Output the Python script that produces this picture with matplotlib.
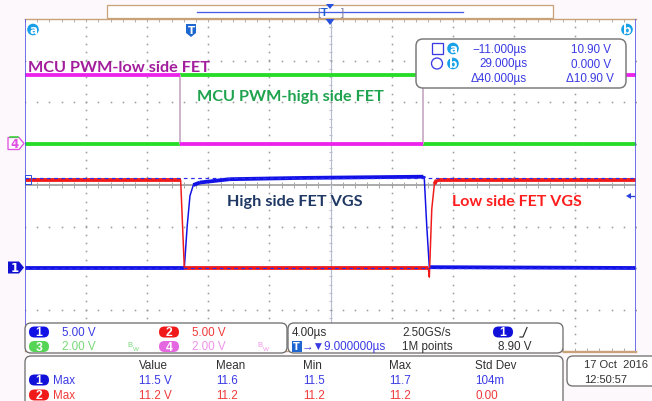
import numpy as np
import matplotlib
matplotlib.use('Agg')
import matplotlib.pyplot as plt
from matplotlib.patches import FancyBboxPatch, Polygon, Circle, Rectangle
from matplotlib.collections import LineCollection

# ---------------- data ----------------
t_min, t_max = -11.0, 29.0          # µs, cursor a / cursor b positions
time_per_div = 4.0
trig_delay = 9.0
trig_level = 8.90                   # V on ch1
cursor_a_v, cursor_b_v = 10.90, 0.0 # V on ch1

ch_scale = {1: 5.0, 2: 5.0, 3: 2.0, 4: 2.0}      # V/div
ch_ground = {1: -2.0, 2: -2.0, 3: 1.0, 4: 1.0}   # ground position (div)

# Channel 1: high side FET VGS
ch1_t = [-11.0, -0.57, -0.38, -0.20, 0.02, 0.46, 2.4, 7.0, 15.08, 15.14, 15.30, 15.47, 29.0]
ch1_v = [0.0, 0.0, 5.1, 8.7, 10.0, 10.3, 10.7, 10.85, 11.0, 10.8, 5.1, 0.1, 0.0]
# Channel 2: low side FET VGS
ch2_t = [-11.0, -0.81, -0.57, 15.40, 15.47, 15.63, 15.80, 15.95, 29.0]
ch2_v = [10.6, 10.6, 0.0, 0.0, -1.1, 7.1, 10.1, 10.6, 10.6]
# Channel 3: MCU PWM - high side FET
ch3_t = [-11.0, -0.85, -0.85, 15.05, 15.05, 29.0]
ch3_v = [0.0, 0.0, 3.3, 3.3, 0.0, 0.0]
# Channel 4: MCU PWM - low side FET
ch4_t = [-11.0, -0.85, -0.85, 15.05, 15.05, 29.0]
ch4_v = [3.3, 3.3, 0.0, 0.0, 3.3, 3.3]

channel_labels = ["1", "2", "3", "4"]
channel_scales_txt = ["5.00 V", "5.00 V", "2.00 V", "2.00 V"]
timebase_txt = "4.00µs"
sample_rate_txt = "2.50GS/s"
delay_txt = "9.000000µs"
points_txt = "1M points"
trig_txt = "8.90 V"

cursor_times = ["\u221211.000µs", "29.000µs", "\u039440.000µs"]
cursor_volts = ["10.90 V", "0.000 V", "\u039410.90 V"]

meas_header = ["Value", "Mean", "Min", "Max", "Std Dev"]
meas_ch1 = ["11.5 V", "11.6", "11.5", "11.7", "104m"]
meas_ch2 = ["11.2 V", "11.2", "11.2", "11.2", "0.00"]
date_txt = "17 Oct  2016"
time_txt = "12:50:57"

ann_low_pwm = "MCU PWM-low side FET"
ann_high_pwm = "MCU PWM-high side FET"
ann_high_vgs = "High side FET VGS"
ann_low_vgs = "Low side FET VGS"

# ---------------- style ----------------
W, H = 652, 402
PX = 0.72  # points per pixel at dpi 100
UI = ['Liberation Sans', 'DejaVu Sans']
UISZ = 8.4
ANN = ['Lato', 'DejaVu Sans']
C1, C2, C3, C4 = '#1212E6', '#F01A1A', '#26DC26', '#EC22EC'
UIBLUE = '#3A3AE4'
CYAN = '#18A0E8'
TAN = '#C9A27A'

fig = plt.figure(figsize=(W / 100, H / 100), dpi=100, facecolor='#fdf8fb')

# graticule area in pixels: x 25..636, y 20..352
gx0, gx1, gy0, gy1 = 25, 636, 20, 352
ax = fig.add_axes([gx0 / W, (H - gy1) / H, (gx1 - gx0) / W, (gy1 - gy0) / H])
ax.set_xlim(t_min, t_max)
ax.set_ylim(-4, 4)
ax.set_facecolor('white')
ax.set_xticks([]); ax.set_yticks([])
for s in ['left', 'right']:
    ax.spines[s].set_visible(False)
for s in ['top', 'bottom']:
    ax.spines[s].set_color(TAN); ax.spines[s].set_linewidth(1.4 * PX)

# dotted grid
DOT = '#9c9c9c'
ndiv_x = int(round((t_max - t_min) / time_per_div))
for k in range(1, ndiv_x):
    if k == ndiv_x // 2:
        continue
    xx = t_min + k * time_per_div
    ys = np.arange(-4, 4.001, 0.2)
    ax.plot(np.full_like(ys, xx), ys, ls='none', marker='s', ms=1.6 * PX, color=DOT, mew=0)
for k in range(-3, 4):
    if k == 0:
        continue
    xs = np.arange(t_min, t_max + 0.001, time_per_div / 5)
    ax.plot(xs, np.full_like(xs, k), ls='none', marker='s', ms=1.6 * PX, color=DOT, mew=0)

# center lines with ticks
tc = t_min + ndiv_x / 2 * time_per_div
ax.axhline(0, color='#a8a8a8', lw=1.9 * PX, zorder=1)
ax.axvline(tc, color='#b8bccc', lw=1.2 * PX, zorder=1)
xt = np.arange(t_min, t_max + 0.001, time_per_div / 5)
ax.vlines(xt, -0.08, 0.08, color='#a8a8a8', lw=1 * PX, zorder=1)
ax.vlines(xt, 4 - 0.08, 4, color='#b0b0b0', lw=1 * PX, zorder=1)
ax.vlines(xt, -4, -4 + 0.08, color='#b0b0b0', lw=1 * PX, zorder=1)
yt = np.arange(-4, 4.001, 0.2)
ax.hlines(yt, tc - 0.12, tc + 0.12, color='#b8bccc', lw=1 * PX, zorder=1)


def to_div(v, ch):
    return np.asarray(v) / ch_scale[ch] + ch_ground[ch]


def draw_trace(t, v, ch, color, thin_color=None, z=3):
    t = np.asarray(t, float)
    d = to_div(v, ch)
    ax.plot(t, d, color=thin_color or color, lw=1.5 * PX, zorder=z, solid_capstyle='butt')
    segs = [[(t[i], d[i]), (t[i + 1], d[i + 1])] for i in range(len(t) - 1)
            if abs(d[i + 1] - d[i]) < 0.15]
    ax.add_collection(LineCollection(segs, colors=color, linewidths=3.8 * PX, zorder=z,
                                     capstyle='butt'))


draw_trace(ch3_t, ch3_v, 3, C3, z=3)
draw_trace(ch4_t, ch4_v, 4, C4, thin_color='#f6a6f0', z=3.1)
draw_trace(ch1_t, ch1_v, 1, C1, z=3.2)
draw_trace(ch2_t, ch2_v, 2, C2, z=3.3)

# cursors
ax.axvline(t_min, color='#5252E6', lw=1.6 * PX, zorder=4)
ax.axvline(t_max, color='#5252E6', lw=1.6 * PX, zorder=4)
for cv in (cursor_a_v, cursor_b_v):
    ax.axhline(to_div(cv, 1), color='#2a2af0', lw=1.2 * PX, ls=(0, (3, 3)), zorder=4)

# annotation text
ax.text(-10.8, to_div(3.3, 4) + 0.2, ann_low_pwm, color='#A21E9C', fontsize=11.7,
        family=ANN, fontweight='bold', va='center', ha='left', zorder=5)
ax.text(0.25, 2.15, ann_high_pwm, color='#1FA34E', fontsize=11.7,
        family=ANN, fontweight='bold', va='center', ha='left', zorder=5)
ax.text(2.2, -0.38, ann_high_vgs, color='#1F3864', fontsize=11.7,
        family=ANN, fontweight='bold', va='center', ha='left', zorder=5)
ax.text(16.95, -0.38, ann_low_vgs, color='#FF1E1E', fontsize=11.5,
        family=ANN, fontweight='bold', va='center', ha='left', zorder=5)

# ---------------- overlay (pixel coordinates) ----------------
ov = fig.add_axes([0, 0, 1, 1], zorder=10)
ov.set_xlim(0, W); ov.set_ylim(H, 0)
ov.axis('off'); ov.patch.set_alpha(0)


def txt(x, y, s, color='#303030', size=UISZ, ha='left', weight='normal', fam=UI):
    ov.text(x, y, s, color=color, fontsize=size, ha=ha, va='center', family=fam,
            fontweight=weight)


def rbox(x0, y0, x1, y1, r=6, ec='#6e6e6e', fc='white', lw=1.3):
    ov.add_patch(FancyBboxPatch((x0, y0), x1 - x0, y1 - y0,
                                boxstyle=f"round,pad=0,rounding_size={r}",
                                ec=ec, fc=fc, lw=lw * PX))


def pill(x, y, color, label, w=20, h=11):
    ov.add_patch(FancyBboxPatch((x, y - h / 2), w, h,
                                boxstyle=f"round,pad=0,rounding_size={h / 2}",
                                ec='none', fc=color))
    txt(x + w / 2, y + 0.5, label, color='white', size=8.8, ha='center', weight='bold')


# top bar
ov.add_patch(Rectangle((107, 6), 446, 13, fc='white', ec=TAN, lw=1.3 * PX))
ov.plot([197, 463], [12.7, 12.7], color='#4a5ae8', lw=1.3 * PX)
txt(317, 12.5, "[", color='#7a7a9a', size=8)
txt(341, 12.5, "]", color='#7a7a9a', size=8)
txt(324, 13, "T", color='#2060d0', size=8, weight='bold', ha='center')
ov.add_patch(Polygon([(326, 5), (334, 5), (330, 10)], fc='#2a50e0', ec='none'))
ov.add_patch(Polygon([(325.5, 20), (334.5, 20), (330, 26)], fc='#2a50e0', ec='none'))

# a / b cursor markers, T marker
for cx, lab in ((33, "a"), (627, "b")):
    ov.add_patch(Circle((cx, 30.5), 5.8, fc=CYAN, ec='none'))
    txt(cx, 30.2, lab, color='white', size=8.5, ha='center', weight='bold', fam=['DejaVu Sans'])
ov.add_patch(Polygon([(186, 25), (196, 25), (196, 34), (191, 38), (186, 34)],
                     fc='#1e66d0', ec='none'))
txt(191, 30.5, "T", color='white', size=7.5, ha='center', weight='bold', fam=['DejaVu Sans'])

# left channel markers
ov.plot([10, 18], [137.5, 137.5], color=C3, lw=1.5 * PX)
ov.add_patch(Polygon([(8, 138.5), (19, 138.5), (24, 144.5), (19, 150.5), (8, 150.5)],
                     fc='white', ec='#e050e0', lw=1.3 * PX))
txt(14.5, 144.8, "4", color='#e050e0', size=8.5, ha='center', weight='bold', fam=['DejaVu Sans'])
ov.add_patch(Polygon([(8, 262.5), (19, 262.5), (24, 268.5), (19, 274.5), (8, 274.5)],
                     fc='#1010d0', ec='none'))
txt(14.5, 268.8, "1", color='white', size=8.5, ha='center', weight='bold', fam=['DejaVu Sans'])
ov.add_patch(Rectangle((25, 176), 6, 9, fc='none', ec='#3050e0', lw=1 * PX))
# trigger level marker (right)
ov.add_patch(Polygon([(626, 197), (631, 194), (631, 200)], fc='#2a40e0', ec='none'))
ov.plot([631, 634], [197, 197], color='#2a40e0', lw=1.3 * PX)

# cursor readout box
rbox(416, 40, 626, 89, r=7, ec='#7a7a7a', lw=1.5)
ov.add_patch(Rectangle((431.5, 44), 11, 11, fc='none', ec=UIBLUE, lw=1.3 * PX))
ov.add_patch(Circle((437, 64.5), 5.5, fc='none', ec=UIBLUE, lw=1.3 * PX))
for cy, lab in ((49.5, "a"), (64.5, "b")):
    ov.add_patch(Circle((453, cy), 5.8, fc=CYAN, ec='none'))
    txt(453, cy - 0.3, lab, color='white', size=8.5, ha='center', weight='bold', fam=['DejaVu Sans'])
for i, (ct, cv) in enumerate(zip(cursor_times, cursor_volts)):
    y = 50 + 14.5 * i
    txt(527, y, ct, color=UIBLUE, ha='right')
    txt(611 + (3 if i == 2 else 0), y, cv, color=UIBLUE, ha='right')

# bottom-left channel panel
rbox(25, 324, 287, 354, r=6)
ch_colors = [C1, C2, '#55d455', '#e466e0']
ch_txt_colors = [UIBLUE, '#f03a3a', '#78d878', '#f092ea']
pos = [(29, 333), (159, 333), (29, 347.5), (159, 347.5)]
for i in range(4):
    x, y = pos[i]
    pill(x, y, ch_colors[i], channel_labels[i])
    txt(x + 33, y, channel_scales_txt[i], color=ch_txt_colors[i])
    if i >= 2:
        txt(x + 98, y - 1.5, "B", color=ch_txt_colors[i], size=5.5)
        txt(x + 103.5, y + 2.5, "W", color=ch_txt_colors[i], size=4.5)

# timebase panel
rbox(288, 324, 563, 354, r=6)
txt(292, 333, timebase_txt, color='#303030')
txt(402, 333, sample_rate_txt, color='#303030')
pill(493, 333, '#1010d8', "1")
ov.plot([520, 523, 527], [338, 338, 328.5], color='#303030', lw=1.2 * PX)
ov.add_patch(Rectangle((291.5, 342), 10, 10.5, fc='#1e66d0', ec='none'))
txt(296.5, 347.5, "T", color='white', size=7, ha='center', weight='bold', fam=['DejaVu Sans'])
txt(302, 347.5, "\u2192\u25bc" + delay_txt, color=UIBLUE)
txt(402, 347.5, points_txt, color='#303030')
txt(531, 347.5, trig_txt, color='#303030', ha='right')

# measurement panel
rbox(25, 357, 563, 410, r=6)
col_x = [139, 216, 303, 389, 475]
for x, s in zip(col_x, meas_header):
    txt(x, 366.5, s, color='#303030')
pill(29, 381, '#1010d8', "1")
txt(53, 381, "Max", color=UIBLUE)
pill(29, 396, C2, "2")
txt(53, 396, "Max", color='#f03a3a')
for x, s1, s2 in zip(col_x, meas_ch1, meas_ch2):
    txt(x, 381, s1, color=UIBLUE)
    txt(x, 396, s2, color='#f03a3a')

# date panel
ov.plot([563, 636], [352.5, 352.5], color=TAN, lw=1.3 * PX)
rbox(567, 357, 670, 387, r=6)
txt(584, 365.5, date_txt, color='#303030', size=8.0)
txt(584, 380, time_txt, color='#303030', size=8.0)

fig.savefig('out.png', dpi=100, facecolor=fig.get_facecolor())
